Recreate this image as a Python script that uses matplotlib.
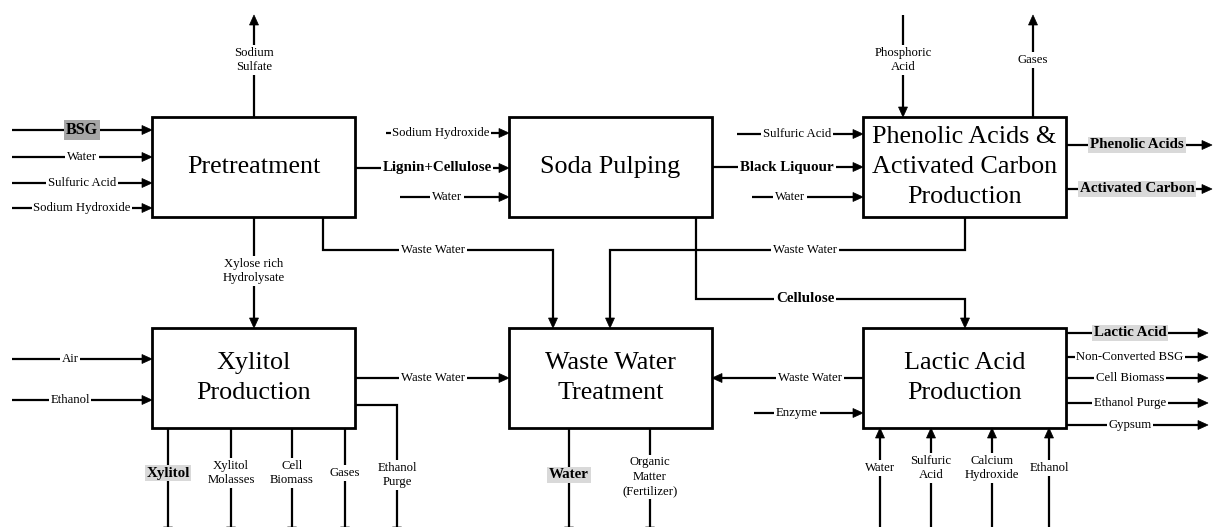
import matplotlib.pyplot as plt
from matplotlib.patches import Rectangle, Polygon

plt.rcParams['font.family'] = ['Liberation Serif', 'DejaVu Serif']

# ---- diagram content -------------------------------------------------------
UNITS = ["Pretreatment", "Soda Pulping",
         "Phenolic Acids &\nActivated Carbon\nProduction",
         "Xylitol\nProduction", "Waste Water\nTreatment",
         "Lactic Acid\nProduction"]
PRETREAT_IN = ["BSG", "Water", "Sulfuric Acid", "Sodium Hydroxide"]
PRETREAT_UP = "Sodium\nSulfate"
PRETREAT_DOWN = "Xylose rich\nHydrolysate"
LIGNIN = "Lignin+Cellulose"
SODA_IN = ["Sodium Hydroxide", "Water"]
BLACK = "Black Liquour"
CELLULOSE = "Cellulose"
WASTE = "Waste Water"
PHENOLIC_TOP = ["Phosphoric\nAcid", "Gases"]
PHENOLIC_IN = ["Sulfuric Acid", "Water"]
PHENOLIC_OUT = ["Phenolic Acids", "Activated Carbon"]
XYL_IN = ["Air", "Ethanol"]
XYL_OUT = ["Xylitol", "Xylitol\nMolasses", "Cell\nBiomass", "Gases", "Ethanol\nPurge"]
WWT_OUT = ["Water", "Organic\nMatter\n(Fertilizer)"]
LACTIC_IN = ["Enzyme"]
LACTIC_OUT = ["Lactic Acid", "Non-Converted BSG", "Cell Biomass",
              "Ethanol Purge", "Gypsum"]
LACTIC_BOTTOM = ["Water", "Sulfuric\nAcid", "Calcium\nHydroxide", "Ethanol"]
PRODUCTS = {"BSG": "#a6a6a6", "Phenolic Acids": "#d9d9d9",
            "Activated Carbon": "#d9d9d9", "Xylitol": "#d9d9d9",
            "Water_wwt": "#d9d9d9", "Lactic Acid": "#d9d9d9"}

# ---- layout (pixels) --------------------------------------------------------
W_PX, H_PX = 1215, 527
COLS = [152, 509, 863]
ROWS = [117, 328]
BW, BH = 203, 100
LW = 1.6
SMALL = 9.2
BOLD = 10.8

fig = plt.figure(figsize=(W_PX / 100, H_PX / 100), dpi=100)
ax = fig.add_axes([0, 0, 1, 1])
ax.set_xlim(0, W_PX)
ax.set_ylim(H_PX, 0)
ax.axis('off')


def box(col, row, text):
    x, y = COLS[col], ROWS[row]
    ax.add_patch(Rectangle((x, y), BW, BH, facecolor='white',
                           edgecolor='black', linewidth=2.0, zorder=3))
    ax.text(x + BW / 2, y + BH / 2, text, ha='center', va='center',
            fontsize=18.8, linespacing=1.48, zorder=4)


def head(p, q):
    # filled arrow head at q, pointing from p to q
    dx, dy = q[0] - p[0], q[1] - p[1]
    n = (dx ** 2 + dy ** 2) ** 0.5
    ux, uy = dx / n, dy / n
    L, hw = 10, 4.5
    bx, by = q[0] - ux * L, q[1] - uy * L
    pts = [q, (bx - uy * hw, by + ux * hw), (bx + uy * hw, by - ux * hw)]
    ax.add_patch(Polygon(pts, closed=True, facecolor='black',
                         edgecolor='black', linewidth=0.5, zorder=5))
    return (bx, by)


def flow(pts, arrow=True):
    pts = list(pts)
    if arrow:
        base = head(pts[-2], pts[-1])
        pts[-1] = base
    xs, ys = zip(*pts)
    ax.plot(xs, ys, color='black', lw=LW, solid_capstyle='butt',
            solid_joinstyle='miter', zorder=2)


def label(x, y, text, bold=False, bg='white', size=None):
    if size is None:
        size = BOLD if bold else SMALL
    ax.text(x, y, text, ha='center', va='center', fontsize=size,
            fontweight='bold' if bold else 'normal', linespacing=1.3,
            zorder=6, bbox=dict(boxstyle='square,pad=0.12', facecolor=bg,
                                edgecolor='none'))


# ---- process boxes ----------------------------------------------------------
for i, name in enumerate(UNITS):
    box(i % 3, i // 3, name)

# Pretreatment
px0, py0 = COLS[0], ROWS[0]
flow([(254, py0), (254, 15)])
label(254, 60, PRETREAT_UP)
for name, y in zip(PRETREAT_IN, [130, 157, 183, 208]):
    flow([(12, y), (px0, y)])
    hl = name in PRODUCTS
    label(82, y, name, bold=hl, bg=PRODUCTS.get(name, 'white'),
          size=11.5 if hl else None)
flow([(px0 + BW, 168), (COLS[1], 168)])
label(437, 168, LIGNIN, bold=True)
flow([(254, py0 + BH), (254, ROWS[1])])
label(254, 271, PRETREAT_DOWN)
flow([(323, py0 + BH), (323, 250), (553, 250), (553, ROWS[1])])
label(433, 250, WASTE)

# Soda pulping
sx0 = COLS[1]
for name, (xs, y, lx) in zip(SODA_IN, [(386, 133, 441), (400, 197, 447)]):
    flow([(xs, y), (sx0, y)])
    label(lx, y, name)
flow([(sx0 + BW, 167), (COLS[2], 167)])
label(787, 167, BLACK, bold=True)
flow([(696, py0 + BH), (696, 299), (965, 299), (965, ROWS[1])])
label(805, 299, CELLULOSE, bold=True)

# Phenolic acids & activated carbon
fx0 = COLS[2]
flow([(903, 15), (903, py0)])
label(903, 60, PHENOLIC_TOP[0])
flow([(1033, py0), (1033, 15)])
label(1033, 60, PHENOLIC_TOP[1])
for name, (xs, y, lx) in zip(PHENOLIC_IN, [(737, 134, 797), (752, 197, 790)]):
    flow([(xs, y), (fx0, y)])
    label(lx, y, name)
flow([(965, py0 + BH), (965, 250), (610, 250), (610, ROWS[1])])
label(805, 250, WASTE)
for name, y in zip(PHENOLIC_OUT, [145, 189]):
    flow([(fx0 + BW, y), (1212, y)])
    label(1137, y, name, bold=True, bg=PRODUCTS[name])

# Xylitol production
xy0 = ROWS[1]
for name, y in zip(XYL_IN, [359, 400]):
    flow([(12, y), (COLS[0], y)])
    label(70, y, name)
flow([(COLS[0] + BW, 378), (COLS[1], 378)])
label(433, 378, WASTE)
for i, (name, x) in enumerate(zip(XYL_OUT, [168, 231, 292, 345, 397])):
    if i == 4:
        flow([(COLS[0] + BW, 405), (x, 405), (x, 537)])
    else:
        flow([(x, xy0 + BH), (x, 537)])
    hl = name in PRODUCTS
    label(x, 475 if i == 4 else 473, name, bold=hl,
          bg=PRODUCTS.get(name, 'white'))

# Waste water treatment
flow([(COLS[2], 378), (COLS[1] + BW, 378)])
label(810, 378, WASTE)
flow([(569, xy0 + BH), (569, 537)])
label(569, 475, WWT_OUT[0], bold=True, bg=PRODUCTS["Water_wwt"])
flow([(650, xy0 + BH), (650, 537)])
label(650, 477, WWT_OUT[1])

# Lactic acid production
flow([(754, 413), (COLS[2], 413)])
label(797, 413, LACTIC_IN[0])
for name, y in zip(LACTIC_OUT, [333, 357, 378, 403, 425]):
    flow([(COLS[2] + BW, y), (1208, y)])
    hl = name in PRODUCTS
    label(1130, y, name, bold=hl, bg=PRODUCTS.get(name, 'white'))
for name, x in zip(LACTIC_BOTTOM, [880, 931, 992, 1049]):
    flow([(x, H_PX + 2), (x, xy0 + BH)])
    label(x, 468, name)

fig.savefig('out.png', dpi=100)
